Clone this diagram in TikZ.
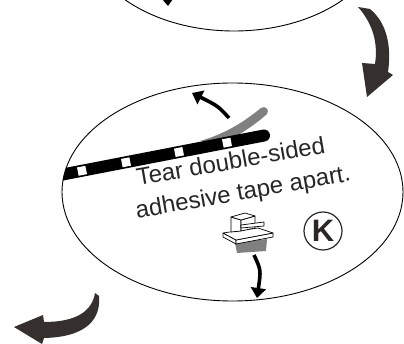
\documentclass[tikz,border=0pt]{standalone}
\usepackage{fontspec}
\setmainfont{Liberation Sans}
\usetikzlibrary{arrows.meta}
\definecolor{bigarrow}{HTML}{35302D}
\definecolor{tapegray}{HTML}{808080}
\definecolor{kdark}{HTML}{2B2725}
\tikzset{
  outline/.style={draw=black, line width=0.9pt},
  bigarrowfill/.style={fill=bigarrow},
  hole/.style={fill=white, inner sep=0pt, minimum size=8.5pt, rotate=11},
  caption/.style={anchor=base west, rotate=10, inner sep=0pt,
    font=\fontsize{24}{28}\selectfont, text=black!85},
  thinarrow/.style={line width=3.6pt, -{Triangle[length=10pt,width=15pt]}},
  part/.style={draw=black, line width=0.7pt, fill=white, line join=round},
}
\begin{document}
\begin{tikzpicture}[x=1pt,y=-1pt]
  \clip (0,0) rectangle (404,344);

  % previous step (upper ellipse, cut off)
  \draw[outline] (234,-69) ellipse [x radius=150, y radius=100];
  \fill[black] (162,-1) -- (173,-1) -- (168,6) -- cycle;

  % curved arrow down to this step
  \fill[bigarrowfill] (358,7) -- (370,9)
     .. controls (386,22) and (392,45) .. (388,72)
     -- (393,75) -- (367,97) -- (362,63) -- (375,64)
     .. controls (378,45) and (374,25) .. (358,7) -- cycle;

  % this step
  \coordinate (c) at (232.5,192);
  \draw[outline] (c) ellipse [x radius=170.5, y radius=109];

  % backing peeled off the tape
  \fill[tapegray] (200,141) .. controls (228,133) and (246,120) .. (261,108)
     .. controls (265,105) and (270,110) .. (267,114)
     .. controls (255,125) and (240,134) .. (230,140) -- cycle;

  % tape strip
  \begin{scope}
    \clip (c) ellipse [x radius=170.5, y radius=109];
    \draw[line width=12pt, line cap=round] (40,178.9) -- (264,135.5);
  \end{scope}
  \node[hole] (h1) at (82,170.8) {};
  \node[hole] (h2) at (126,162.3) {};
  \node[hole] (h3) at (179,152) {};
  \node[hole] (h4) at (227,142.7) {};

  % peel direction
  \coordinate (p0) at (229,118);
  \coordinate (p1) at (192,93);
  \draw[thinarrow] (p0) .. controls (218,106) .. (p1);

  % instruction text
  \node[caption] (t1) at (138,186) {Tear double-sided};
  \node[caption] (t2) at (137,218.5) {adhesive tape apart.};

  % clip holder with tape underneath
  \fill[tapegray] (235,243) -- (267,239) -- (266,251) -- (237,253) -- cycle;
  \draw[part] (223,233) -- (236,240) -- (236,244) -- (223,237) -- cycle;
  \draw[part] (236,240) -- (273,233) -- (273,237) -- (236,244) -- cycle;
  \draw[part] (223,233) -- (258,228) -- (273,233) -- (236,240) -- cycle;
  \draw[part] (231,217) -- (241,220) -- (241,231) -- (231,232) -- cycle;
  \draw[part] (241,220) -- (255,216) -- (255,228) -- (241,231) -- cycle;
  \draw[part] (231,217) -- (245,213) -- (255,216) -- (241,220) -- cycle;
  \draw[part] (241,225) -- (264,222) -- (264,226) -- (241,228) -- cycle;
  \coordinate (holder) at (254,255);
  \coordinate (down) at (257,298);
  \draw[thinarrow] (holder) .. controls (261,270) .. (down);

  % marker K
  \node[draw=kdark, line width=1.2pt, circle, minimum size=38pt, inner sep=0pt,
        text=kdark, font=\bfseries\fontsize{31}{31}\selectfont] (k) at (323,231) {K};

  % arrow on to the next step
  \fill[bigarrowfill] (95,293) -- (99,296)
     .. controls (101,318) and (88,337) .. (44,338)
     -- (42,344) -- (14,327) -- (43,315) -- (44,322)
     .. controls (75,322) and (92,312) .. (95,293) -- cycle;
\end{tikzpicture}
\end{document}
